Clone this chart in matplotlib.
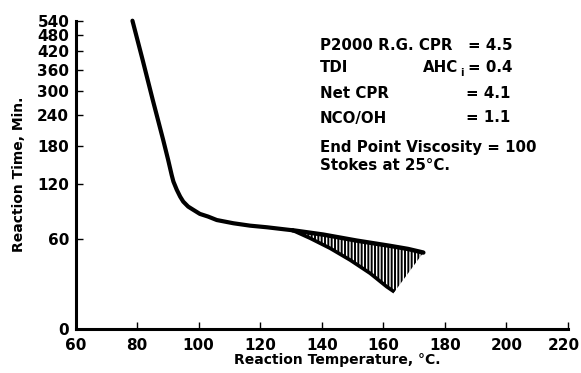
import numpy as np
from matplotlib import pyplot as plt
from matplotlib import transforms

# main curve (reaction temperature C, reaction time min)
temp_main = [78.5, 81.8, 85.1, 86.8, 88.5, 90.1, 91.25, 91.8, 92.9, 94.0, 95.0,
             96.6, 98.3, 100.4, 103.1, 105.9, 111.3, 116.7, 122.2, 127.6, 130.5]
time_main = [540, 391, 276, 230, 190, 156, 133, 124, 113, 104.4, 98.4,
             92.6, 88.9, 84.5, 81.6, 78, 74.7, 72.3, 70.7, 68.8, 67.8]

# upper and lower branch of the hatched band
temp_upper = [130.5, 140.5, 151.4, 162.2, 168.0, 173.0]
time_upper = [67.8, 63.7, 58.2, 53.6, 51.0, 48.0]
temp_lower = [130.5, 136.2, 142.7, 149.2, 155.7, 161.1, 163.6]
time_lower = [67.8, 60.4, 51.6, 42.1, 32.3, 23.3, 20.0]

xticks = [60, 80, 100, 120, 140, 160, 180, 200, 220]
yticks = [0, 60, 120, 180, 240, 300, 360, 420, 480, 540]

notes_left = ['P2000 R.G. CPR', 'TDI', 'Net CPR', 'NCO/OH']
notes_right = ['= 4.5', '= 0.4', '= 4.1', '= 1.1']
note_bottom = ['End Point Viscosity = 100', 'Stokes at 25\u00b0C.']

K = 65.0


def fwd(t):
    return np.log((np.asarray(t, dtype=float) + K) / K)


def inv(u):
    return K * np.exp(np.asarray(u, dtype=float)) - K


plt.rcParams['font.family'] = ['DejaVu Sans']
plt.rcParams['font.weight'] = 'bold'
plt.rcParams['hatch.linewidth'] = 1.4

W, H = 581, 373
fig = plt.figure(figsize=(W / 100, H / 100), dpi=100)
ax = fig.add_axes([75.5 / W, 1 - 329 / H, 492.5 / W, 308.3 / H])
ax.set_yscale('function', functions=(fwd, inv))
ax.set_xlim(60, 220)
ax.set_ylim(0, 540)

ax.plot(temp_main, time_main, color='black', lw=3, solid_capstyle='round',
        solid_joinstyle='round', clip_on=False)
ax.plot(temp_upper, time_upper, color='black', lw=3.2, solid_capstyle='round',
        solid_joinstyle='round')
ax.plot(temp_lower, time_lower, color='black', lw=2.6, solid_capstyle='butt',
        solid_joinstyle='round')
ax.fill(temp_upper + temp_lower[::-1], time_upper + time_lower[::-1],
        facecolor='none', edgecolor='black', lw=0, hatch='|||||')

for s in ['top', 'right']:
    ax.spines[s].set_visible(False)
for s in ['left', 'bottom']:
    ax.spines[s].set_linewidth(2.2)

ax.set_xticks(xticks)
ax.set_yticks(yticks)
ax.tick_params(direction='in', length=5, width=1, labelsize=11, pad=4.5)
ax.tick_params(axis='x', pad=6.5)
ax.set_yticklabels([str(v) for v in yticks], fontweight='bold')
ax.set_xticklabels([str(v) for v in xticks], fontweight='bold')
last = ax.get_xticklabels()[-1]
last.set_transform(last.get_transform() + transforms.ScaledTranslation(-4 / 100, 0, fig.dpi_scale_trans))

fig.text(337.5 / W, 1 - 360 / H, 'Reaction Temperature, \u00b0C.', ha='center', va='center',
         fontsize=10, fontweight='bold')
fig.text(19 / W, 1 - 174 / H, 'Reaction Time, Min.', ha='center', va='center',
         rotation=90, fontsize=10, fontweight='bold')

ys = [45, 68, 93, 118]
xr = [513, 513, 510, 510]
for lab, val, y, x in zip(notes_left, notes_right, ys, xr):
    fig.text(320 / W, 1 - y / H, lab, ha='left', va='center', fontsize=10.8, fontweight='bold')
    fig.text(x / W, 1 - y / H, val, ha='right', va='center', fontsize=10.8, fontweight='bold')
fig.text(423 / W, 1 - 68 / H, 'AHC', ha='left', va='center', fontsize=10.8, fontweight='bold')
fig.text(460 / W, 1 - 73 / H, 'i', ha='left', va='center', fontsize=7, fontweight='bold')
for lab, y in zip(note_bottom, [147, 165]):
    fig.text(320 / W, 1 - y / H, lab, ha='left', va='center', fontsize=10.8, fontweight='bold')

fig.savefig('out.png', dpi=100)
